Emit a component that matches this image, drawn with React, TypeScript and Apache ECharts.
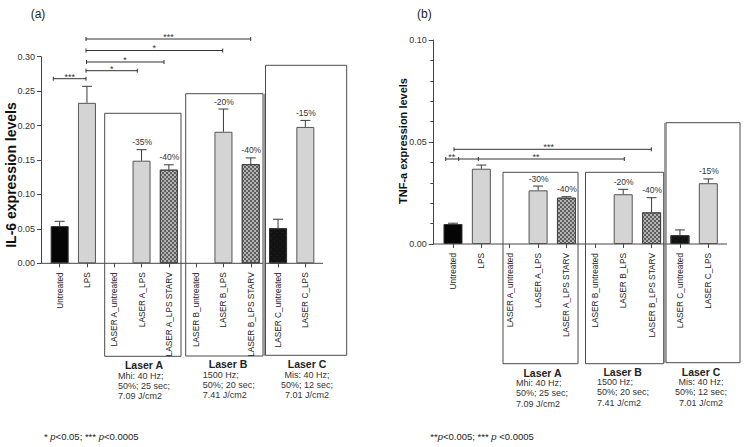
import React, { useEffect, useRef } from "react";
import * as echarts from "echarts";

// ---------- data ----------
const categories = [
  "Untreated",
  "LPS",
  "LASER A_untreated",
  "LASER A_LPS",
  "LASER A_LPS STARV",
  "LASER B_untreated",
  "LASER B_LPS",
  "LASER B_LPS STARV",
  "LASER C_untreated",
  "LASER C_LPS",
];
const groupKind = ["ctrl", "lps", "none", "lps", "starv", "none", "lps", "starv", "ctrlC", "lps"];

const il6Mean = [0.054, 0.233, null, 0.149, 0.136, null, 0.191, 0.144, 0.051, 0.198];
const il6Sd = [0.007, 0.024, null, 0.016, 0.007, null, 0.033, 0.009, 0.013, 0.0095];
const il6Pct = [null, null, null, "-35%", "-40%", null, "-20%", "-40%", null, "-15%"];

const tnfMean = [0.0098, 0.0369, null, 0.0263, 0.0227, null, 0.0244, 0.0155, 0.0043, 0.0298];
const tnfSd = [0.0004, 0.0018, null, 0.0021, 0.0005, null, 0.0024, 0.0072, 0.0026, 0.0021];
const tnfPct = [null, null, null, "-30%", "-40%", null, "-20%", "-40%", null, "-15%"];

const il6Ticks = { min: 0, max: 0.3, interval: 0.05 };
const tnfTicks = { min: 0, max: 0.1, interval: 0.05 };

const FONT = "'Liberation Sans', Arial, Helvetica, sans-serif";
const AX = "#444";

function styleFor(kind: string) {
  if (kind === "ctrl") return { color: "#050505", borderColor: "#333", borderWidth: 1 };
  if (kind === "ctrlC")
    return {
      color: "#121212",
      borderColor: "#333",
      borderWidth: 1,
      decal: { symbol: "rect", symbolSize: 1, color: "#2a2a2a", dashArrayX: [1, 3], dashArrayY: [1, 3], rotation: Math.PI / 4 },
    };
  if (kind === "starv")
    return {
      color: "#b4b4b4",
      borderColor: "#444",
      borderWidth: 1,
      decal: {
        symbol: "rect",
        symbolSize: 1,
        color: "#5e5e5e",
        dashArrayX: [[2, 2], [0, 2, 2, 0]],
        dashArrayY: [2, 0],
        rotation: 0,
      },
    };
  return { color: "#d4d4d4", borderColor: "#555", borderWidth: 1 };
}

function barData(means: (number | null)[]) {
  return means.map((m, i) => (m == null ? "-" : { value: m, itemStyle: styleFor(groupKind[i]) }));
}

function errData(means: (number | null)[], sds: (number | null)[]) {
  const out: number[][] = [];
  means.forEach((m, i) => {
    if (m != null && sds[i] != null) out.push([i, m, sds[i] as number]);
  });
  return out;
}

function txt(x: number, y: number, text: string, opts: any = {}) {
  const align = opts.align || "left";
  const va = opts.va || "middle";
  return {
    type: "text",
    x,
    y,
    rotation: opts.rotation || 0,
    silent: true,
    style: {
      text,
      fill: opts.fill || "#333",
      fontSize: opts.size || 9,
      fontWeight: opts.weight || "normal",
      fontStyle: opts.style || "normal",
      fontFamily: FONT,
      align,
      verticalAlign: va,
      textAlign: align,
      textVerticalAlign: va,
      rich: opts.rich,
    },
  };
}

function line(x1: number, y1: number, x2: number, y2: number, stroke = AX, w = 1) {
  return { type: "line", silent: true, shape: { x1, y1, x2, y2 }, style: { stroke, lineWidth: w } };
}

function rect(x1: number, y1: number, x2: number, y2: number) {
  return {
    type: "rect",
    silent: true,
    shape: { x: x1, y: y1, width: x2 - x1, height: y2 - y1 },
    style: { fill: "none", stroke: "#4a4a4a", lineWidth: 1 },
  };
}

function bracket(x1: number, x2: number, y: number, caps: number[], labels: { x: number; t: string }[]) {
  const els: any[] = [line(x1, y, x2, y, "#333", 1)];
  caps.forEach((c) => els.push(line(c, y - 2, c, y + 2, "#333", 1)));
  labels.forEach((l) => els.push(txt(l.x, y - 2.2, l.t, { align: "center", size: 9, fill: "#333" })));
  return els;
}

function makeErrRender(labels: (string | null)[]) {
  return (params: any, api: any) => {
    const i = api.value(0);
    const m = api.value(1);
    const s = api.value(2);
    const base = api.coord([i, m]);
    const top = api.coord([i, m + s]);
    const st = { stroke: "#3a3a3a", lineWidth: 1 };
    const children: any[] = [
      { type: "line", shape: { x1: base[0], y1: base[1], x2: top[0], y2: top[1] }, style: st },
      { type: "line", shape: { x1: top[0] - 5, y1: top[1], x2: top[0] + 5, y2: top[1] }, style: st },
    ];
    const lab = labels[i];
    if (lab) {
      children.push({
        type: "text",
        x: top[0] + 0.5,
        y: top[1] - 7.5,
        style: {
          text: lab,
          fill: "#333",
          fontSize: 8.5,
          fontFamily: FONT,
          align: "center",
          verticalAlign: "middle",
          textAlign: "center",
          textVerticalAlign: "middle",
        },
      });
    }
    return { type: "group", children };
  };
}

function xAxisFor(gridIndex: number) {
  return {
    type: "category",
    gridIndex,
    data: categories,
    axisLine: { show: false },
    axisTick: { show: true, alignWithLabel: true, length: 4, lineStyle: { color: AX } },
    axisLabel: { rotate: 90, interval: 0, fontSize: 8.3, color: "#222", fontFamily: FONT, margin: 9 },
    splitLine: { show: false },
  };
}

export default function App() {
  const ref = useRef<HTMLDivElement>(null);

  useEffect(() => {
    if (!ref.current) return;
    const chart = echarts.init(ref.current, null, { renderer: "svg" });

    // layout (pixels)
    const gA = { left: 46, top: 56.7, width: 273, height: 206.6 };
    const gB = { left: 438.8, top: 40, width: 283.7, height: 204 };
    const yA0 = gA.top + gA.height;
    const yB0 = gB.top + gB.height;

    const graphic: any[] = [
      // panel (a)
      txt(30.7, 13.5, "(a)", { size: 12, fill: "#222" }),
      txt(11, 175, "IL-6 expression levels", { align: "center", size: 14, weight: "bold", fill: "#111", rotation: Math.PI / 2 }),
      line(41, yA0, 323, yA0, AX, 1),
      ...bracket(53.3, 86, 78.7, [53.3, 86], [{ x: 69.7, t: "***" }]),
      ...bracket(86, 137.3, 70.7, [86, 137.3], [{ x: 111.7, t: "*" }]),
      ...bracket(86.5, 164, 62, [86.5, 164], [{ x: 125, t: "*" }]),
      ...bracket(86, 222.7, 50.5, [86, 222.7], [{ x: 154.3, t: "*" }]),
      ...bracket(86, 250.7, 39, [86, 250.7], [{ x: 168.5, t: "***" }]),
      rect(104.7, 113.3, 181, 356.3),
      rect(185.7, 93.7, 263, 356),
      line(264.2, 93.7, 264.2, 356, "#999", 2.4),
      rect(265.5, 65.3, 346.7, 355.3),
      txt(144, 365, "Laser A", { align: "center", size: 10.5, weight: "bold", fill: "#222" }),
      txt(118, 375.7, "Mhi: 40 Hz;", {}),
      txt(118, 385.9, "50%; 25 sec;", {}),
      txt(118, 396.1, "7.09 J/cm2", {}),
      txt(228, 364, "Laser B", { align: "center", size: 10.5, weight: "bold", fill: "#222" }),
      txt(202.7, 374.7, "1500 Hz;", {}),
      txt(202.7, 384.9, "50%; 20 sec;", {}),
      txt(202.7, 395.1, "7.41 J/cm2", {}),
      txt(307, 364, "Laser C", { align: "center", size: 10.5, weight: "bold", fill: "#222" }),
      txt(307, 374.7, "Mis: 40 Hz;", { align: "center" }),
      txt(307, 384.9, "50%; 12 sec;", { align: "center" }),
      txt(307, 395.1, "7.01 J/cm2", { align: "center" }),
      txt(44, 436, "* {i|p}<0.05; *** {i|p}<0.0005", {
        size: 9.5,
        fill: "#222",
        rich: { i: { fontStyle: "italic", fontSize: 9.5, fontFamily: FONT, fill: "#222" } },
      }),

      // panel (b)
      txt(417, 13.5, "(b)", { size: 12, fill: "#222" }),
      txt(403, 141, "TNF-a expression levels", { align: "center", size: 11, weight: "bold", fill: "#111", rotation: Math.PI / 2 }),
      line(433.3, yB0, 727, yB0, AX, 1),
      ...bracket(445.7, 624.3, 159, [445.7, 458.7, 478.3, 624.3], [
        { x: 451.7, t: "**" },
        { x: 536, t: "**" },
      ]),
      ...bracket(454, 651.3, 149.3, [454, 651.3], [{ x: 548.7, t: "***" }]),
      rect(503, 172.3, 578, 363.7),
      rect(585.5, 172.3, 663.7, 363.7),
      rect(666, 122.7, 740, 362.7),
      line(664.8, 122.7, 664.8, 363, "#777", 1),
      txt(542.5, 372.7, "Laser A", { align: "center", size: 10.5, weight: "bold", fill: "#222" }),
      txt(516, 383.3, "Mhi: 40 Hz;", {}),
      txt(516, 393.4, "50%; 25 sec;", {}),
      txt(516, 403.5, "7.09 J/cm2", {}),
      txt(622.7, 371.7, "Laser B", { align: "center", size: 10.5, weight: "bold", fill: "#222" }),
      txt(597, 382.3, "1500 Hz;", {}),
      txt(597, 392.4, "50%; 20 sec;", {}),
      txt(597, 402.5, "7.41 J/cm2", {}),
      txt(701, 371.7, "Laser C", { align: "center", size: 10.5, weight: "bold", fill: "#222" }),
      txt(701, 382.3, "Mis: 40 Hz;", { align: "center" }),
      txt(701, 392.4, "50%; 12 sec;", { align: "center" }),
      txt(701, 402.5, "7.01 J/cm2", { align: "center" }),
      txt(430.3, 436, "**{i|p}<0.005; *** {i|p} <0.0005", {
        size: 9.5,
        fill: "#222",
        rich: { i: { fontStyle: "italic", fontSize: 9.5, fontFamily: FONT, fill: "#222" } },
      }),
    ];

    const option: any = {
      animation: false,
      backgroundColor: "#fff",
      textStyle: { fontFamily: FONT },
      grid: [
        { ...gA, containLabel: false },
        { ...gB, containLabel: false },
      ],
      xAxis: [xAxisFor(0), xAxisFor(1)],
      yAxis: [
        {
          type: "value",
          gridIndex: 0,
          ...il6Ticks,
          offset: 5,
          axisLine: { show: true, lineStyle: { color: AX } },
          axisTick: { show: true, length: 4, lineStyle: { color: AX } },
          axisLabel: { fontSize: 9, color: "#333", margin: 6, formatter: (v: number) => v.toFixed(2) },
          splitLine: { show: false },
        },
        {
          type: "value",
          gridIndex: 1,
          ...tnfTicks,
          offset: 5.5,
          axisLine: { show: true, lineStyle: { color: AX } },
          axisTick: { show: true, length: 4.5, lineStyle: { color: AX } },
          minorTick: { show: true, splitNumber: 5, length: 3, lineStyle: { color: AX } },
          axisLabel: { fontSize: 9, color: "#333", margin: 6.5, formatter: (v: number) => v.toFixed(2) },
          splitLine: { show: false },
        },
      ],
      series: [
        {
          name: "IL-6",
          type: "bar",
          xAxisIndex: 0,
          yAxisIndex: 0,
          barWidth: "66%",
          data: barData(il6Mean),
        },
        {
          name: "IL-6 error",
          type: "custom",
          xAxisIndex: 0,
          yAxisIndex: 0,
          encode: { x: 0, y: 1 },
          renderItem: makeErrRender(il6Pct),
          data: errData(il6Mean, il6Sd),
          z: 3,
        },
        {
          name: "TNF-a",
          type: "bar",
          xAxisIndex: 1,
          yAxisIndex: 1,
          barWidth: "67%",
          data: barData(tnfMean),
        },
        {
          name: "TNF-a error",
          type: "custom",
          xAxisIndex: 1,
          yAxisIndex: 1,
          encode: { x: 0, y: 1 },
          renderItem: makeErrRender(tnfPct),
          data: errData(tnfMean, tnfSd),
          z: 3,
        },
      ],
      graphic,
    };

    chart.setOption(option);
    return () => chart.dispose();
  }, []);

  return (
    <div
      ref={ref}
      style={{ position: "absolute", left: 0, top: 0, width: 744, height: 447, background: "#fff" }}
    />
  );
}
